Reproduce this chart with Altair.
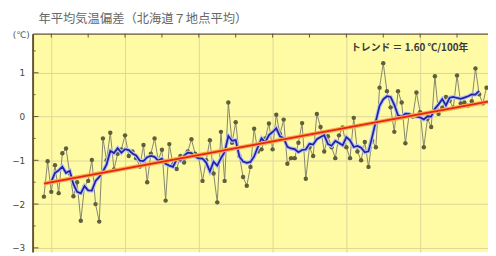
import altair as alt
import pandas as pd

years = list(range(1898, 2019))
anom = [
    -1.83, -1.02, -1.72, -1.11, -1.75, -0.84, -0.73, -1.30, -1.82, -1.50,   # 1898-1907
    -2.38, -1.60, -1.47, -0.99, -2.00, -2.40, -0.50, -1.00, -0.37, -1.21,   # 1908-1917
    -0.85, -0.75, -0.43, -0.90, -0.80, -0.95, -1.14, -0.65, -1.50, -0.85,   # 1918-1927
    -0.50, -1.00, -0.76, -1.92, -0.63, -1.10, -1.20, -0.90, -1.05, -0.80,   # 1928-1937
    -0.52, -0.85, -0.95, -1.47, -1.00, -0.54, -1.30, -1.96, -0.35, -1.47,   # 1938-1947
     0.32, -0.60, -0.13, -0.90, -1.38, -1.58, -1.15, -0.28, -0.80, -0.75,   # 1948-1957
    -0.50, -0.16, -0.75,  0.04, -0.40, -0.07, -1.08, -0.95, -0.95, -0.60,   # 1958-1967
    -0.15, -1.42, -0.70, -0.90,  0.06, -0.24, -0.80, -0.45, -0.70, -0.95,   # 1968-1977
    -0.43, -0.25, -0.70, -0.95, -0.03, -0.80, -1.00, -0.58, -1.15, -0.55,   # 1978-1987
    -0.70,  0.66,  1.22,  0.58,  0.21, -0.35,  0.58,  0.32, -0.61,  0.04,   # 1988-1997
     0.00,  0.55,  0.10, -0.70, -0.05, -0.24,  0.92,  0.06,  0.20,  0.45,   # 1998-2007
     0.36,  0.20,  0.94,  0.30,  0.32,  0.25,  0.35,  1.10,  0.51,  0.30,   # 2008-2017
     0.66,                                                                  # 2018
]
trend_years = [1898, 2018.4]
trend_vals = [-1.53, 0.34]

major_y = [-3, -2, -1, 0, 1]
minor_y = [-2.5, -1.5, -0.5, 0.5, 1.5]
top_ticks = [1900, 1910, 1920, 1930, 1940, 1950, 1960, 1970, 1980, 1990, 2000, 2010]
grid_x = [1900, 1920, 1940, 1960, 1980, 2000]

title_text = "年平均気温偏差（北海道７地点平均）"
trend_text = "トレンド ＝ 1.60 ℃/100年"
unit_text = "(℃)"

df = pd.DataFrame({"year": years, "v": anom})
tdf = pd.DataFrame({"year": trend_years, "v": trend_vals})

xs = alt.Scale(domain=[1894.93, 2018.4], nice=False, zero=False)
ys = alt.Scale(domain=[-3.094, 1.894], nice=False, zero=False)
border = "#65553a"
gridc = "#dcd699"
xaxis = alt.Axis(orient="top", values=grid_x, labels=False, ticks=False, grid=True,
                 gridColor=gridc, gridWidth=1, domainColor=border, domainWidth=1.5, title=None)
yaxis = alt.Axis(values=major_y, ticks=False, labelPadding=8, labelFontSize=9,
                 labelColor="#444444", labelFont="DejaVu Sans", grid=True, gridColor=gridc,
                 gridWidth=1, domainColor=border, domainWidth=2, title=None)

def X(f="year:Q"):
    return alt.X(f, scale=xs, axis=xaxis)

def Y(f="v:Q"):
    return alt.Y(f, scale=ys, axis=yaxis)

annual_line = alt.Chart(df).mark_line(color="#85856c", strokeWidth=1, clip=True).encode(x=X(), y=Y())
annual_pts = alt.Chart(df).mark_circle(color="#5f5f3a", size=20, opacity=1, clip=True).encode(x=X(), y=Y())

ma_base = alt.Chart(df).transform_window(
    ma="mean(v)", n="count()", frame=[-2, 2], sort=[alt.SortField("year")]
).transform_filter("datum.n == 5")
ma_halo = ma_base.mark_line(color="#b4c0ff", strokeWidth=4, clip=True).encode(x=X(), y=Y("ma:Q"))
ma_line = ma_base.mark_line(color="#23239c", strokeWidth=1.8, clip=True).encode(x=X(), y=Y("ma:Q"))

tr_halo = alt.Chart(tdf).mark_line(color="#ffaa44", strokeWidth=4, clip=True).encode(x=X(), y=Y())
tr_line = alt.Chart(tdf).mark_line(color="#e4231c", strokeWidth=1.8, clip=True).encode(x=X(), y=Y())

major_df = pd.DataFrame({"v": major_y})
minor_df = pd.DataFrame({"v": minor_y})
top_df = pd.DataFrame({"year": top_ticks})
tick_major = alt.Chart(major_df).mark_rule(color=border, strokeWidth=1).encode(
    y=Y(), x=alt.value(0), x2=alt.value(6))
tick_minor = alt.Chart(minor_df).mark_rule(color=border, strokeWidth=1).encode(
    y=Y(), x=alt.value(0), x2=alt.value(3))
tick_top = alt.Chart(top_df).mark_rule(color=border, strokeWidth=1).encode(
    x=X(), y=alt.value(0), y2=alt.value(4))

title = alt.Chart(pd.DataFrame({"t": [title_text]})).mark_text(
    align="left", baseline="middle", fontSize=12.5, color="#666666", font="Noto Sans CJK JP"
).encode(x=alt.value(6), y=alt.value(-15), text="t:N")
unit = alt.Chart(pd.DataFrame({"t": [unit_text]})).mark_text(
    align="right", baseline="middle", fontSize=9, color="#555555", font="DejaVu Sans"
).encode(x=alt.value(-3), y=alt.value(1), text="t:N")
trend_lbl = alt.Chart(pd.DataFrame({"t": [trend_text]})).mark_text(
    align="right", baseline="middle", fontSize=10, fontWeight="bold", color="#3a3a3a",
    font="Noto Sans CJK JP"
).encode(x=alt.value(443), y=alt.value(15), text="t:N")

chart = alt.layer(
    annual_line, annual_pts, ma_halo, ma_line, tr_halo, tr_line,
    tick_major, tick_minor, tick_top, title, unit, trend_lbl
).properties(
    width=463, height=222,
    autosize=alt.AutoSizeParams(type="none"),
    padding={"left": 25, "top": 24, "right": 0, "bottom": 0},
    background="white",
).configure_view(fill="#fefba4", stroke=None)

chart.save("out.html", embed_options={"renderer": "svg", "actions": False})
